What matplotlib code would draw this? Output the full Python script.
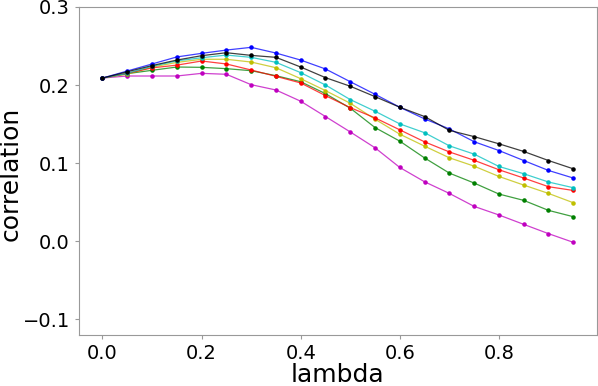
import numpy as np
import matplotlib
matplotlib.use("Agg")
import matplotlib.pyplot as plt

# lambda values along the x axis
lambdas = np.arange(20) * 0.05

# correlation curves, one per colour
blue = [0.209, 0.218, 0.227, 0.236, 0.2406, 0.2448, 0.2483, 0.241, 0.232, 0.2206,
        0.2043, 0.1882, 0.1716, 0.1567, 0.1439, 0.1275, 0.1162, 0.1034, 0.0907, 0.081]
black = [0.209, 0.217, 0.225, 0.232, 0.2376, 0.2414, 0.238, 0.2355, 0.2231, 0.2095,
         0.1985, 0.1852, 0.1716, 0.1597, 0.142, 0.134, 0.1248, 0.115, 0.1034, 0.0928]
cyan = [0.209, 0.215, 0.224, 0.231, 0.235, 0.2384, 0.2355, 0.2291, 0.2159, 0.2001,
        0.1814, 0.1665, 0.1503, 0.139, 0.1222, 0.1116, 0.0958, 0.0865, 0.0759, 0.0686]
yellow = [0.209, 0.214, 0.223, 0.229, 0.233, 0.233, 0.2295, 0.2222, 0.2082, 0.1929,
          0.1767, 0.1563, 0.1371, 0.1218, 0.1069, 0.0962, 0.083, 0.072, 0.0613, 0.0494]
red = [0.209, 0.215, 0.222, 0.2255, 0.2308, 0.227, 0.2193, 0.2112, 0.2027, 0.1865,
       0.1711, 0.158, 0.1427, 0.1273, 0.1144, 0.1037, 0.0916, 0.081, 0.0699, 0.0651]
green = [0.209, 0.2146, 0.2189, 0.2231, 0.2227, 0.221, 0.2184, 0.212, 0.2043, 0.189,
         0.1704, 0.1456, 0.1282, 0.1067, 0.0873, 0.0746, 0.0605, 0.0524, 0.0396, 0.0315]
magenta = [0.209, 0.2116, 0.2116, 0.2116, 0.215, 0.2138, 0.2005, 0.1937, 0.1793, 0.1597,
           0.140, 0.1197, 0.0945, 0.0762, 0.0613, 0.0447, 0.0337, 0.0217, 0.0098, -0.0013]

series = [(magenta, 'm'), (green, 'g'), (yellow, 'y'), (red, 'r'),
          (cyan, 'c'), (blue, 'b'), (black, 'k')]

fig = plt.figure(figsize=(5.98, 3.86), dpi=100)
ax = fig.add_axes([0.132, 0.132, 0.866, 0.85])

for vals, col in series:
    ax.plot(lambdas, vals, color=col, linewidth=0.9, alpha=0.75)
    ax.plot(lambdas, vals, color=col, linestyle='none', marker='.', markersize=4.5)

ax.set_ylim(-0.12, 0.3)
ax.set_xticks([0.0, 0.2, 0.4, 0.6, 0.8])
ax.set_yticks([-0.1, 0.0, 0.1, 0.2, 0.3])
ax.set_xlabel('lambda', fontsize=18, labelpad=0)
ax.set_ylabel('correlation', fontsize=18)
ax.yaxis.set_label_coords(-0.108, 0.49)
ax.tick_params(labelsize=14, colors='#999999', labelcolor='black', length=3)
for s in ax.spines.values():
    s.set_color('#999999')

fig.savefig('out.png', dpi=100)
